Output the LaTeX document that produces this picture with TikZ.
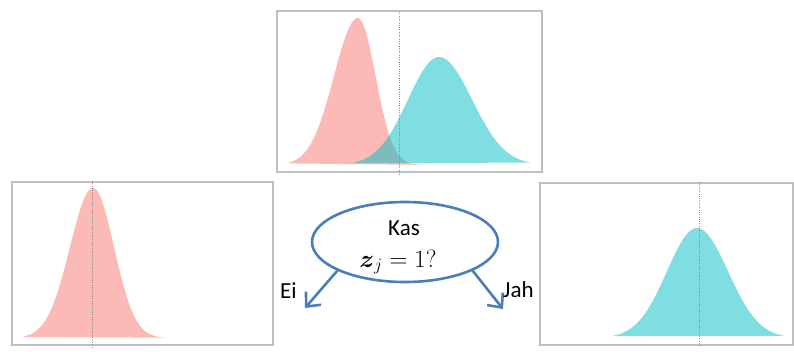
\documentclass[tikz,border=0pt]{standalone}
\usepackage{amsmath}
\usepackage[no-math]{fontspec}
\setmainfont{Carlito}
\usetikzlibrary{arrows.meta,shapes.geometric}
\definecolor{gred}{HTML}{F8766D}
\definecolor{gteal}{HTML}{00BFC4}
\definecolor{oblue}{HTML}{4A7EBB}
\tikzset{
  panel/.style={draw=black!25, line width=1.3pt, fill=white},
  meanline/.style={draw=black!45, line width=1pt, dash pattern=on 1pt off 1.3pt},
  redcurve/.style={fill=gred, fill opacity=0.5},
  tealcurve/.style={fill=gteal, fill opacity=0.5},
  question/.style={ellipse, draw=oblue, line width=2.6pt, minimum width=186pt, minimum height=80pt, inner sep=0pt},
  branch/.style={draw=oblue, line width=2.6pt, -{Straight Barb[length=11pt,width=20pt,line width=2.6pt]}},
  lbl/.style={font=\fontsize{23}{26}\selectfont, inner sep=0pt, anchor=base west}
}
\begin{document}
\begin{tikzpicture}[x=1pt,y=-1pt]
\useasboundingbox (0,0) rectangle (794,351);
% panels
\node[panel, minimum width=265pt, minimum height=161pt, inner sep=0pt] (top) at (409.5,91.5) {};
\node[panel, minimum width=261pt, minimum height=163pt, inner sep=0pt] (left) at (142.5,263.5) {};
\node[panel, minimum width=253pt, minimum height=162pt, inner sep=0pt] (right) at (666.5,264) {};
% top curves
\fill[redcurve] plot[domain=286:425, samples=120] (\x, {165-147*exp(-0.5*((\x-358)/((\x<358)?24:17.5))^2)}) -- cycle;
\fill[tealcurve] plot[domain=350:530, samples=120] (\x, {165-108*exp(-0.5*((\x-439)/((\x<439)?31:33))^2)}) -- cycle;
\draw[meanline] (399,11) -- (399,175);
% left curve
\fill[redcurve] plot[domain=22:168, samples=120] (\x, {338-150*exp(-0.5*((\x-93)/((\x<93)?23:21))^2)}) -- cycle;
\draw[meanline] (92,181) -- (92,347);
% right curve
\fill[tealcurve] plot[domain=612:784, samples=120] (\x, {338-110*exp(-0.5*((\x-697)/((\x<697)?30:31))^2)}) -- cycle;
\draw[meanline] (699,182) -- (699,347);
% question
\node[question] (q) at (405,242) {};
\node[lbl, anchor=base] (kas) at (404,235) {Kas};
\node[lbl, anchor=base, font=\fontsize{26}{28}\selectfont] (eq) at (398,267) {$\boldsymbol{z}_j = 1?$};
\coordinate (noend) at (305,308);
\coordinate (yesend) at (503,309);
\draw[branch] (q.-157) -- (noend);
\draw[branch] (q.-23) -- (yesend);
\node[lbl] (ei) at (280,298) {Ei};
\node[lbl] (jah) at (503,297) {Jah};
\end{tikzpicture}
\end{document}
